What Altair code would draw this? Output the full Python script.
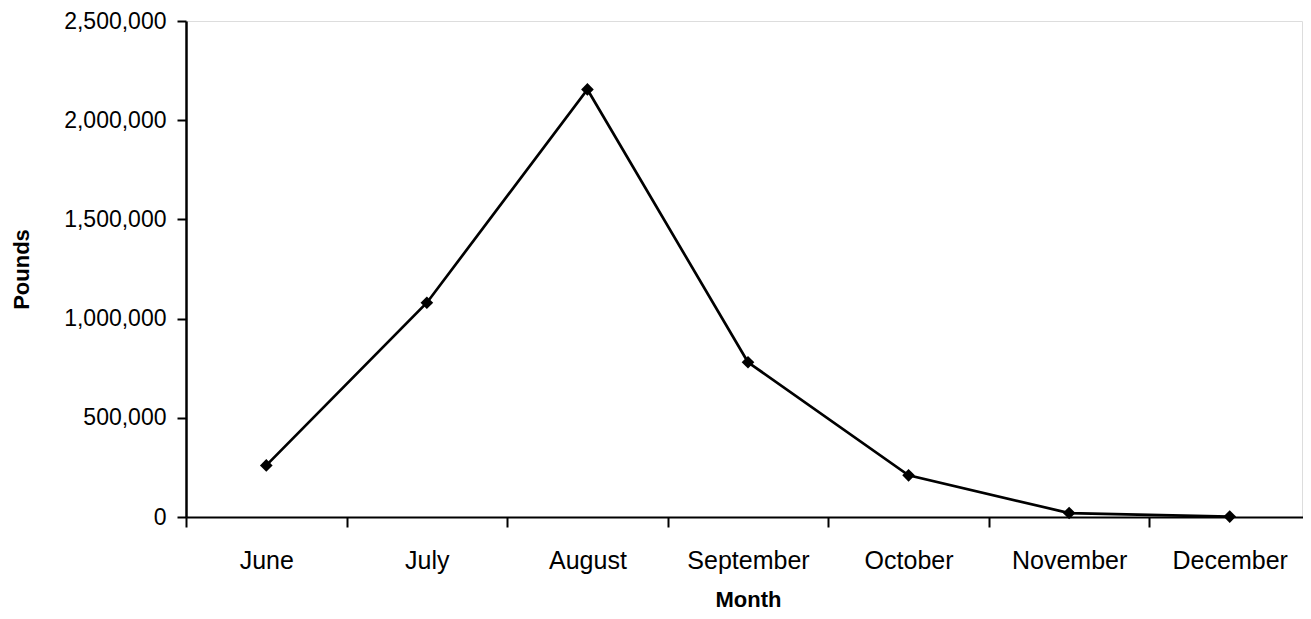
import altair as alt
import pandas as pd

months = ["June", "July", "August", "September", "October", "November", "December"]
pounds = [260000, 1080000, 2155000, 780000, 210000, 20000, 2000]
y_ticks = [0, 500000, 1000000, 1500000, 2000000, 2500000]

df = pd.DataFrame({"Month": months, "Pounds": pounds})

chart = alt.Chart(df).mark_line(
    color="black",
    strokeWidth=2.7,
    point=alt.OverlayMarkDef(shape="diamond", size=160, filled=True, color="black", opacity=1),
).encode(
    x=alt.X(
        "Month:N",
        sort=months,
        bandPosition=0.5,
        scale=alt.Scale(type="band", paddingInner=0, paddingOuter=0, range=[0, 1124]),
        axis=alt.Axis(
            title="Month",
            labelAngle=0,
            tickBand="extent",
            tickSize=10,
            tickWidth=2,
            tickColor="black",
            domainColor="black",
            domainWidth=2,
            labelPadding=21,
            labelFont="Liberation Sans",
            labelFontSize=25,
            labelColor="black",
            titleFont="Liberation Sans",
            titleFontSize=22,
            titleFontWeight="bold",
            titleColor="black",
            titleBaseline="alphabetic",
            titleY=89,
            grid=False,
        ),
    ),
    y=alt.Y(
        "Pounds:Q",
        scale=alt.Scale(domain=[0, 2500000], nice=False),
        axis=alt.Axis(
            title="Pounds",
            values=y_ticks,
            format=",d",
            tickSize=9,
            tickWidth=2,
            tickColor="black",
            domainColor="black",
            domainWidth=2.5,
            labelPadding=11,
            labelFont="Liberation Sans",
            labelFontSize=23,
            labelColor="black",
            titleFont="Liberation Sans",
            titleFontSize=22,
            titleFontWeight="bold",
            titleColor="black",
            titleBaseline="alphabetic",
            titleX=-158,
            grid=False,
        ),
    ),
).properties(
    width=1116,
    height=496,
    autosize=alt.AutoSizeParams(type="none"),
    padding={"left": 178, "top": 13, "right": 1, "bottom": 93},
).configure_view(stroke=None).configure(background="white")

chart.save("out.html", embed_options={"renderer": "svg", "actions": False})
